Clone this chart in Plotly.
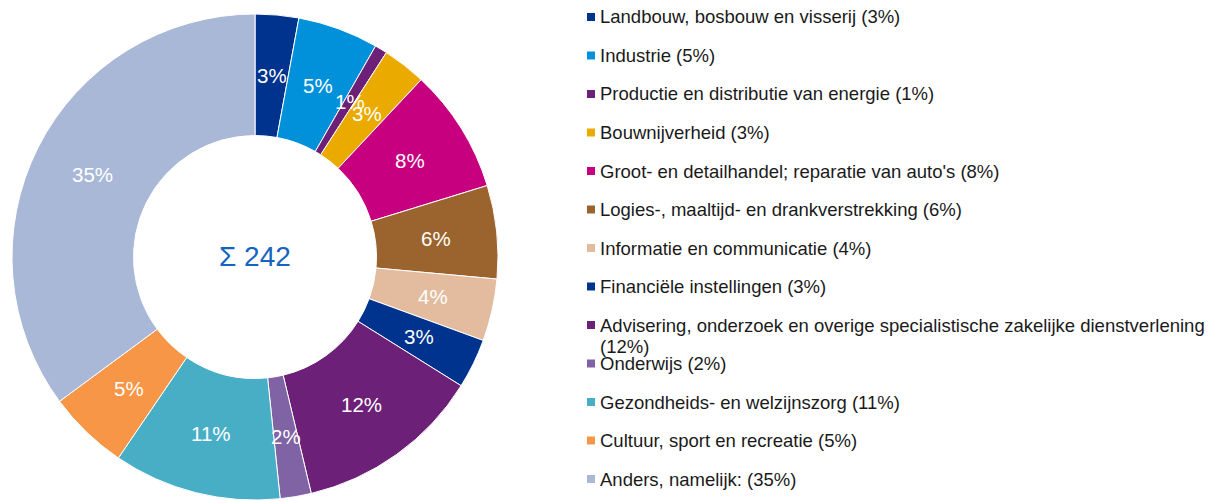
import math
import plotly.graph_objects as go

categories = [
    "Landbouw, bosbouw en visserij",
    "Industrie",
    "Productie en distributie van energie",
    "Bouwnijverheid",
    "Groot- en detailhandel; reparatie van auto's",
    "Logies-, maaltijd- en drankverstrekking",
    "Informatie en communicatie",
    "Financiële instellingen",
    "Advisering, onderzoek en overige specialistische zakelijke dienstverlening",
    "Onderwijs",
    "Gezondheids- en welzijnszorg",
    "Cultuur, sport en recreatie",
    "Anders, namelijk:",
]
counts = [7, 13, 2, 7, 20, 15, 10, 8, 30, 5, 27, 13, 85]
colors = [
    "#00338D", "#0091DA", "#6D2077", "#EAAA00", "#C6007E", "#9B642E",
    "#E3BC9F", "#00338D", "#6D2077", "#8063A5", "#48AEC6", "#F79646",
    "#A9B8D7",
]

# page body has an 8px margin -> figure is 8px smaller and shifted
OFF = 8
W, H = 1213 - OFF, 501 - OFF
FONT = "Liberation Sans, Arial, sans-serif"

total = sum(counts)
pcts = [round(v / total * 100) for v in counts]

# pie geometry (px in the page)
CX, CY, R_OUT = 255, 257, 243
HOLE = 0.5

def px(x):
    return (x - OFF) / W

def py(y):
    return 1 - (y - OFF) / H

fig = go.Figure()
fig.add_trace(go.Pie(
    labels=categories,
    values=counts,
    sort=False,
    direction="clockwise",
    rotation=0,
    hole=HOLE,
    marker=dict(colors=colors, line=dict(color="white", width=1)),
    textinfo="none",
    showlegend=False,
    hoverinfo="label+value+percent",
    domain=dict(x=[px(CX - R_OUT), px(CX + R_OUT)], y=[py(CY + R_OUT), py(CY - R_OUT)]),
))

# slice labels at the middle of the ring, mid-angle of each slice
r_mid = R_OUT * (1 + HOLE) / 2
cum = 0
for v, p in zip(counts, pcts):
    mid = (cum + v / 2) / total * 2 * math.pi
    cum += v
    lx = CX + r_mid * math.sin(mid)
    ly = CY - r_mid * math.cos(mid)
    fig.add_annotation(
        x=px(lx), y=py(ly), xref="paper", yref="paper",
        text=f"{p}%", showarrow=False, xanchor="center", yanchor="middle",
        font=dict(size=20.5, color="white", family=FONT),
    )

fig.add_annotation(
    x=px(CX), y=py(CY), xref="paper", yref="paper",
    text=f"Σ {total}", showarrow=False,
    font=dict(size=28, color="#1565C0", family=FONT),
    xanchor="center", yanchor="middle",
)

shapes = []
y0 = 17.0
step = 38.5
for i, (cat, p, col) in enumerate(zip(categories, pcts, colors)):
    yc = y0 + step * i
    label = f"{cat} ({p}%)"
    lines = [label] if len(label) <= 70 else [cat, f"({p}%)"]
    for j, line in enumerate(lines):
        fig.add_annotation(
            x=px(599), y=py(yc + 21 * j), xref="paper", yref="paper",
            text=line, showarrow=False, align="left",
            xanchor="left", yanchor="middle",
            font=dict(size=18.5, color="#1a1a1a", family=FONT),
            borderpad=0,
        )
    shapes.append(dict(
        type="rect", xref="paper", yref="paper",
        x0=px(587), x1=px(595), y0=py(yc + 4), y1=py(yc - 4),
        fillcolor=col, line=dict(width=0),
    ))

fig.update_layout(
    width=W, height=H,
    margin=dict(l=0, r=0, t=0, b=0),
    paper_bgcolor="white",
    plot_bgcolor="white",
    shapes=shapes,
    font=dict(family=FONT),
)

fig.write_html("out.html")
